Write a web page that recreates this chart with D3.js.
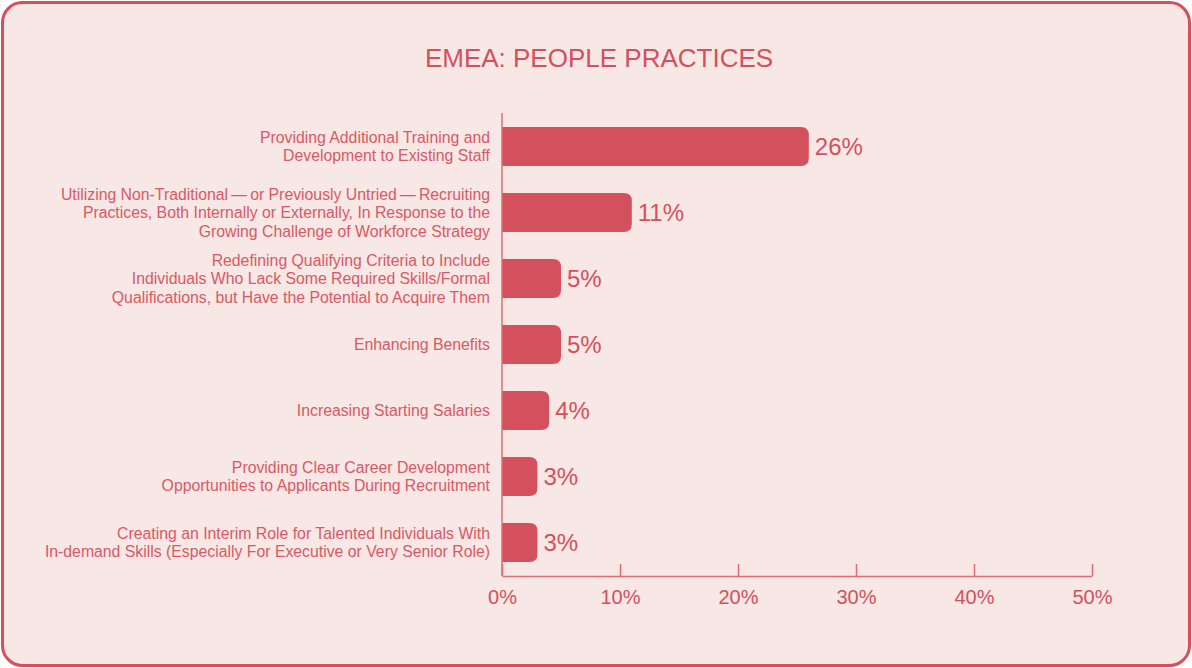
<!DOCTYPE html>
<html>
<head>
<meta charset="utf-8">
<script src="https://cdn.jsdelivr.net/npm/d3@7"></script>
<style>
  html, body { margin: 0; padding: 0; background: #fff; }
  svg { display: block; font-family: "Liberation Sans", Arial, Helvetica, sans-serif; }
</style>
</head>
<body>
<div id="chart"></div>
<script>
// ---- Data ----
const TITLE = "EMEA: PEOPLE PRACTICES";

const categories = [
  ["Providing Additional Training and", "Development to Existing Staff"],
  ["Utilizing Non-Traditional\u2009\u2014\u2009or Previously Untried\u2009\u2014\u2009Recruiting",
   "Practices, Both Internally or Externally, In Response to the",
   "Growing Challenge of Workforce Strategy"],
  ["Redefining Qualifying Criteria to Include",
   "Individuals Who Lack Some Required Skills/Formal",
   "Qualifications, but Have the Potential to Acquire Them"],
  ["Enhancing Benefits"],
  ["Increasing Starting Salaries"],
  ["Providing Clear Career Development", "Opportunities to Applicants During Recruitment"],
  ["Creating an Interim Role for Talented Individuals With",
   "In-demand Skills (Especially For Executive or Very Senior Role)"]
];

const values = [26, 11, 5, 5, 4, 3, 3];

const xTicks = [0, 10, 20, 30, 40, 50];

// ---- Layout ----
const W = 1192, H = 668;
const RED = "#d5505d";
const LABEL = "#da5966";
const AXIS = "#de6c77";
const BG = "#f7e7e5";

const svg = d3.select("#chart").append("svg")
  .attr("width", W)
  .attr("height", H);

// card
svg.append("rect")
  .attr("x", 2.5).attr("y", 2.5)
  .attr("width", W - 5).attr("height", H - 5)
  .attr("rx", 20).attr("ry", 20)
  .attr("fill", BG)
  .attr("stroke", RED)
  .attr("stroke-width", 3);

svg.append("text")
  .attr("x", 599)
  .attr("y", 67)
  .attr("text-anchor", "middle")
  .attr("fill", RED)
  .style("font-size", "26px")
  .text(TITLE);

const x = d3.scaleLinear().domain([0, 50]).range([502, 1092]);

const y = d3.scaleBand()
  .domain(d3.range(values.length))
  .range([113.5, 575.5])
  .paddingInner(0.41)
  .paddingOuter(0.205);

const axisY = 576;

// bars: rounded on the right only
const r = 8;
function barPath(i) {
  const x0 = x(0), x1 = x(values[i]);
  const y0 = y(i), h = y.bandwidth();
  const rr = Math.min(r, (x1 - x0) / 2);
  return `M${x0},${y0}H${x1 - rr}Q${x1},${y0} ${x1},${y0 + rr}` +
         `V${y0 + h - rr}Q${x1},${y0 + h} ${x1 - rr},${y0 + h}H${x0}Z`;
}

svg.append("g")
  .selectAll("path")
  .data(values)
  .join("path")
  .attr("d", (d, i) => barPath(i))
  .attr("fill", RED);

// value labels
svg.append("g")
  .selectAll("text")
  .data(values)
  .join("text")
  .attr("x", d => x(d) + 6)
  .attr("y", (d, i) => y(i) + y.bandwidth() / 2)
  .attr("dy", "0.36em")
  .attr("fill", RED)
  .style("font-size", "24px")
  .text(d => d + "%");

// category labels
const lineH = 18.5;
const catG = svg.append("g");
categories.forEach((lines, i) => {
  const cy = y(i) + y.bandwidth() / 2;
  const start = cy - (lines.length - 1) * lineH / 2;
  const t = catG.append("text")
    .attr("text-anchor", "end")
    .attr("fill", LABEL)
    .style("font-size", "15.8px");
  lines.forEach((ln, j) => {
    t.append("tspan")
      .attr("x", 490)
      .attr("y", start + j * lineH)
      .attr("dy", "0.35em")
      .text(ln);
  });
});

// y axis line
svg.append("line")
  .attr("x1", x(0)).attr("x2", x(0))
  .attr("y1", 113).attr("y2", axisY)
  .attr("stroke", AXIS)
  .attr("stroke-width", 1.5);

// x axis
const xAxis = svg.append("g")
  .attr("transform", `translate(0,${axisY})`)
  .call(d3.axisTop(x).tickValues(xTicks).tickSize(12).tickSizeOuter(0).tickFormat(d => d + "%"));

xAxis.select(".domain").attr("stroke", AXIS).attr("stroke-width", 1.5);
xAxis.selectAll(".tick line").attr("stroke", AXIS).attr("stroke-width", 1.5);
xAxis.selectAll(".tick text")
  .attr("y", 21)
  .attr("dy", "0.36em")
  .attr("fill", RED)
  .style("font-size", "20px")
  .style("font-family", "'Liberation Sans', Arial, sans-serif");
</script>
</body>
</html>
